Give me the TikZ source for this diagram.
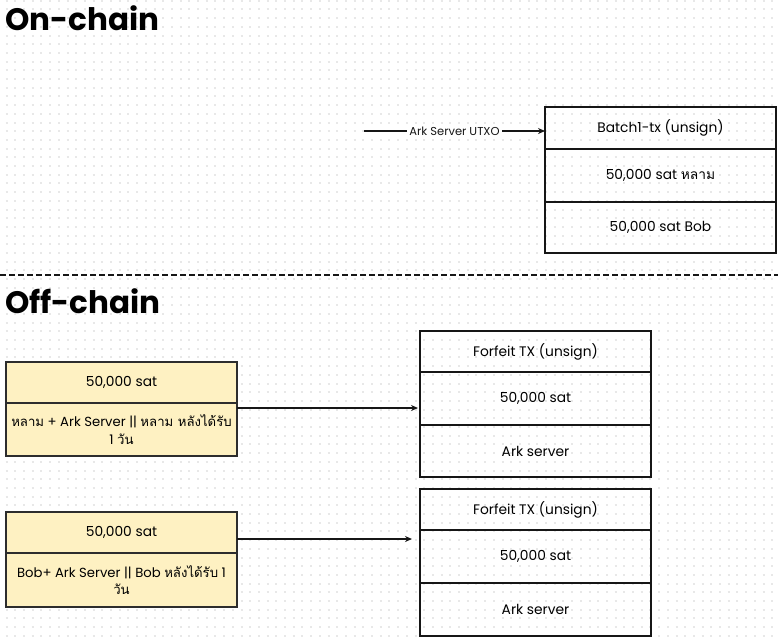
\documentclass[tikz,border=0pt]{standalone}
\usepackage{fontspec}
\setmainfont{Poppins}
\newfontfamily\thaifont[Script=Thai]{Loma}
\usetikzlibrary{arrows.meta, positioning}

\definecolor{noteyellow}{HTML}{FEF1C2}
\definecolor{inkblack}{HTML}{161616}
\definecolor{gridgray}{HTML}{E8E8E8}

\tikzset{
    txbox/.style = {draw = inkblack, line width = 1.8pt, rectangle,
        minimum width = 231pt, outer sep = 0pt, inner sep = 2pt,
        font = \fontsize{13.8}{17.5}\selectfont, align = center},
    notebox/.style = {txbox, fill = noteyellow, draw = inkblack!90},
    lockbox/.style = {notebox, font = \fontsize{13.2}{17.5}\selectfont},
    flowline/.style = {line width = 1.6pt, inkblack,
        -{Stealth[length = 7pt, width = 6pt]}},
    sectiontitle/.style = {anchor = base west, inner sep = 0pt,
        font = \fontsize{31}{36}\selectfont\bfseries},
    griddot/.style = {gridgray, line width = 2pt,
        dash pattern = on 2pt off 6.7pt, dash phase = -5.6pt}
}

\begin{document}
\begin{tikzpicture}[x = 1pt, y = -1pt]

        % Page frame, in pixels of the reference.
        \useasboundingbox (0, 0) rectangle (778, 638);

        % Dotted grid in the background.
        \foreach \row in {0, 1, ..., 73}{
            \draw[griddot] (0, {0.7 + \row * 8.7}) -- (778, {0.7 + \row * 8.7});
        }

        % Section titles.
        \node[sectiontitle] (onchain) at (5, 30) {On-chain};
        \node[sectiontitle] (offchain) at (5, 313) {Off-chain};

        % Dashed line between the two sections.
        \coordinate (SEPL) at (0, 275);
        \coordinate (SEPR) at (778, 275);
        \draw[inkblack, line width = 1.4pt, dash pattern = on 6pt off 3pt] (SEPL) -- (SEPR);

        % Batch transaction on chain.
        \node[txbox, minimum height = 42pt, anchor = north west] (batchhead) at (545, 107) {Batch1-tx (unsign)};
        \node[txbox, minimum height = 53pt, below = 0pt of batchhead] (batchlam) {50,000 sat {\thaifont หลาม}};
        \node[txbox, minimum height = 51pt, below = 0pt of batchlam] (batchbob) {50,000 sat Bob};

        % Server UTXO going into the batch.
        \coordinate (UTXO) at (364, 131);
        \draw[flowline] (UTXO) -- node[fill = white, inner sep = 2pt, font = \fontsize{11.5}{13}\selectfont] {Ark Server UTXO} (UTXO -| batchhead.west);

        % Off-chain note for the first user.
        \node[notebox, minimum height = 41pt, anchor = north west] (lamsat) at (6, 362) {50,000 sat};
        \node[lockbox, minimum height = 53pt, below = 0pt of lamsat] (lamlock) {{\thaifont หลาม} + Ark Server || {\thaifont หลาม หลังได้รับ}\\1 {\thaifont วัน}};

        % Forfeit transaction for the first user.
        \node[txbox, minimum height = 41pt, anchor = north west] (forfeithead) at (420, 331) {Forfeit TX (unsign)};
        \node[txbox, minimum height = 53pt, below = 0pt of forfeithead] (forfeitsat) {50,000 sat};
        \node[txbox, minimum height = 52pt, below = 0pt of forfeitsat] (forfeitark) {Ark server};

        % Off-chain note for Bob.
        \node[notebox, minimum height = 41pt, anchor = north west] (bobsat) at (6, 512) {50,000 sat};
        \node[lockbox, minimum height = 54pt, below = 0pt of bobsat] (boblock) {Bob+ Ark Server || Bob {\thaifont หลังได้รับ} 1\\{\thaifont วัน}};

        % Forfeit transaction for Bob.
        \node[txbox, minimum height = 41pt, anchor = north west] (forfeitheadb) at (420, 489) {Forfeit TX (unsign)};
        \node[txbox, minimum height = 53pt, below = 0pt of forfeitheadb] (forfeitsatb) {50,000 sat};
        \node[txbox, minimum height = 53pt, below = 0pt of forfeitsatb] (forfeitarkb) {Ark server};

        % Notes pointing to their forfeit transactions.
        \draw[flowline] ([yshift = -5pt] lamlock.north east) -- ([yshift = -5pt, xshift = -2pt] lamlock.north east -| forfeitsat.west);
        \draw[flowline] ([yshift = 14pt] boblock.north east) -- ([yshift = 14pt, xshift = -8pt] boblock.north east -| forfeitsatb.west);
    \end{tikzpicture}
\end{document}
